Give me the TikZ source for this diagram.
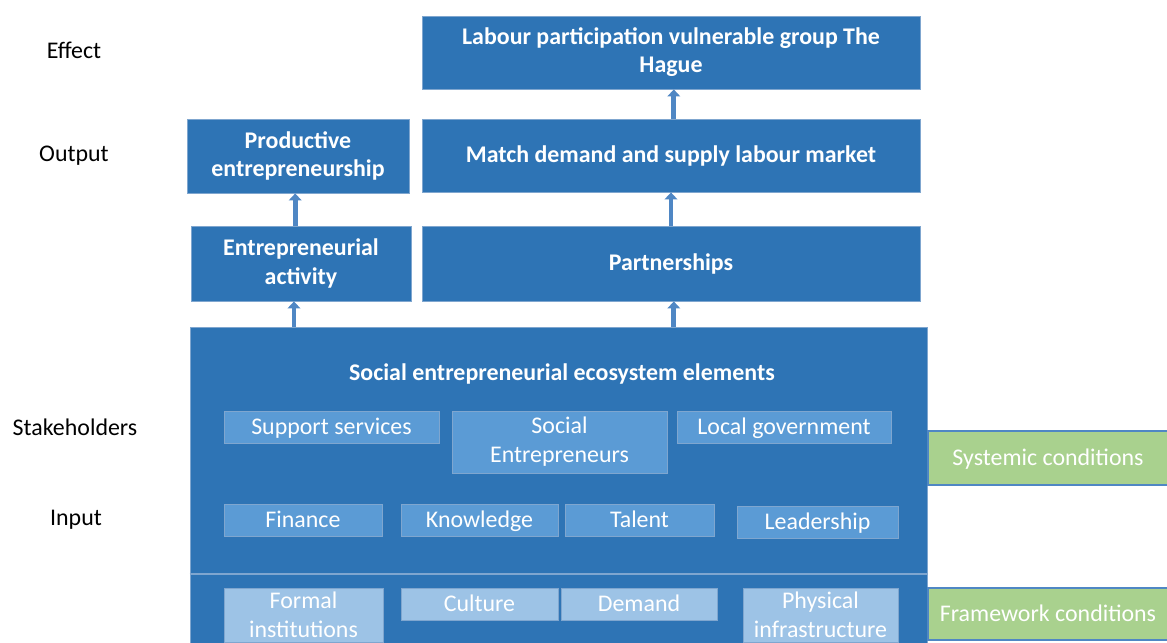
\documentclass[tikz,border=0pt]{standalone}
\usepackage{fontspec}
\setmainfont{Carlito}
\usetikzlibrary{fit,arrows.meta}
\definecolor{darkblue}{HTML}{2E74B5}
\definecolor{midblue}{HTML}{5B9BD5}
\definecolor{paleblue}{HTML}{9DC3E6}
\definecolor{edgeblue}{HTML}{7FA6CF}
\definecolor{condgreen}{HTML}{A9D18E}
\definecolor{arrowblue}{HTML}{4F87C4}
\tikzset{
  lbl/.style={font=\fontsize{17}{20}\selectfont,text=black},
  boldtext/.style={text=white,align=center,font=\fontsize{17}{20}\selectfont\bfseries},
  plaintext/.style={text=white,align=center,font=\fontsize{17}{20.5}\selectfont},
  oneline/.style={plaintext,text height=14pt,text depth=2.7pt},
  outbox/.style={draw=edgeblue,line width=0.6pt,fill=darkblue,inner sep=0pt},
  elem/.style={draw=edgeblue,line width=0.6pt,fill=midblue,inner sep=0pt},
  framebox/.style={elem,fill=paleblue},
  condbox/.style={draw=arrowblue,line width=0.8pt,fill=condgreen,inner sep=0pt},
  uparrow/.style={draw=arrowblue,line width=3.5pt,-{Triangle[width=9pt,length=5pt]}}
}
\begin{document}
\begin{tikzpicture}[x=0.025cm,y=-0.025cm]
\useasboundingbox (0,0) rectangle (1167,643);

% levels
\node[lbl] (effect) at (74,50) {Effect};
\node[lbl] (output) at (74,156) {Output};
\node[lbl] (stake) at (75,427) {Stakeholders};
\node[lbl] (input) at (76,520) {Input};

% upper boxes
\node[outbox,fit={(422,16) (920,89)},label={[boldtext]center:Labour participation vulnerable group The\\Hague}] (labour) {};
\node[outbox,fit={(422,119) (920,192)},label={[boldtext]center:Match demand and supply labour market}] (match) {};
\node[outbox,fit={(187,119) (409,193)},label={[boldtext]center:Productive\\entrepreneurship}] (prod) {};
\node[outbox,fit={(191,226) (411,301)},label={[boldtext]center:Entrepreneurial\\activity}] (entact) {};
\node[outbox,fit={(422,226) (920,301)},label={[boldtext]center:Partnerships}] (partner) {};

% ecosystem
\node[outbox,fit={(190,327) (927,646)}] (eco) {};
\node[boldtext] (ecotitle) at (562,374) {Social entrepreneurial ecosystem elements};
\draw[edgeblue,line width=0.8pt] (eco.west |- 0,574) coordinate (divl) -- (eco.east |- 0,574) coordinate (divr);

\node[elem,fit={(224,411) (439,443)},label={[oneline]center:Support services}] (support) {};
\node[elem,fit={(452,411) (667,473)},label={[plaintext]center:Social\\Entrepreneurs}] (socent) {};
\node[elem,fit={(677,411) (891,443)},label={[oneline]center:Local government}] (localgov) {};
\node[elem,fit={(224,504) (382,536)},label={[oneline]center:Finance}] (finance) {};
\node[elem,fit={(401,504) (558,536)},label={[oneline]center:Knowledge}] (know) {};
\node[elem,fit={(565,504) (714,536)},label={[oneline]center:Talent}] (talent) {};
\node[elem,fit={(737,506) (898,538)},label={[oneline]center:Leadership}] (lead) {};

\node[framebox,fit={(224,588) (383,642)},label={[plaintext]center:Formal\\institutions}] (formal) {};
\node[framebox,fit={(401,588) (558,620)},label={[oneline]center:Culture}] (culture) {};
\node[framebox,fit={(561,588) (717,620)},label={[oneline]center:Demand}] (demand) {};
\node[framebox,fit={(743,588) (898,642)},label={[plaintext]center:Physical\\infrastructure}] (phys) {};

% conditions
\node[condbox,fit={(928,431) (1168,485)},label={[oneline]center:Systemic conditions}] (systemic) {};
\node[condbox,fit={(928,588) (1168,640)},label={[oneline]center:Framework conditions}] (framework) {};

% arrows
\draw[uparrow] ([xshift=-5]entact.south |- eco.north) -- ([xshift=-5]entact.south);
\draw[uparrow] ([xshift=-2]prod.south |- entact.north) -- ([xshift=-2]prod.south);
\draw[uparrow] ([xshift=2]partner.south |- eco.north) -- ([xshift=2]partner.south);
\draw[uparrow] (match.south |- partner.north) -- (match.south);
\draw[uparrow] ([xshift=2]labour.south |- match.north) -- ([xshift=2]labour.south);
\end{tikzpicture}
\end{document}
